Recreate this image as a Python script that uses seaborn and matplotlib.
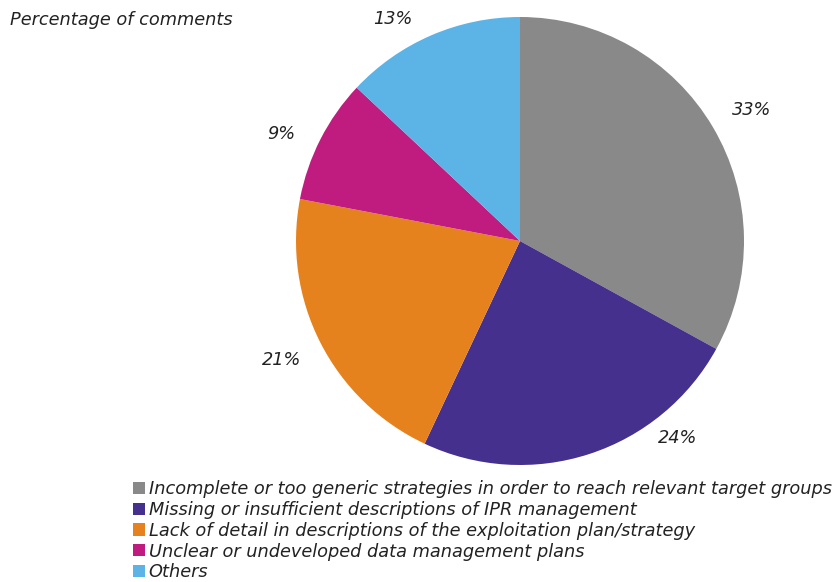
import matplotlib
matplotlib.use("Agg")
import matplotlib.pyplot as plt
import seaborn as sns
from matplotlib.patches import Patch

sns.set_theme(style="white")
plt.rcParams["font.family"] = ["DejaVu Sans"]

categories = [
    "Incomplete or too generic strategies in order to reach relevant target groups",
    "Missing or insufficient descriptions of IPR management",
    "Lack of detail in descriptions of the exploitation plan/strategy",
    "Unclear or undeveloped data management plans",
    "Others",
]
shares = [33, 24, 21, 9, 13]
colors = ["#898989", "#46308e", "#e6821e", "#c01c80", "#5bb3e6"]

# label anchor points around the pie (unit-radius data coords)
label_xy = [(1.036, 0.585), (0.705, -0.879), (-1.063, -0.531), (-1.067, 0.478), (-0.567, 0.991)]

W, H = 840, 582
fig = plt.figure(figsize=(W / 100, H / 100), dpi=100)
cx, cy, r = 520, 241, 224
ax = fig.add_axes([(cx - r) / W, (H - cy - r) / H, 2 * r / W, 2 * r / H])

ax.pie(shares, colors=colors, startangle=90, counterclock=False,
       radius=1, wedgeprops=dict(linewidth=0))
ax.set_xlim(-1, 1)
ax.set_ylim(-1, 1)
ax.set_aspect("equal")
ax.axis("off")

FS = 12.8
for v, (x, y) in zip(shares, label_xy):
    ax.text(x, y, f"{v}%", ha="center", va="center", fontsize=FS,
            style="italic", color="#222222", clip_on=False)

fig.text(10 / W, 1 - 20 / H, "Percentage of comments", ha="left", va="center",
         fontsize=FS, style="italic", color="#222222")

handles = [Patch(facecolor=c, edgecolor="none") for c in colors]
leg = fig.legend(handles, categories, loc="upper left",
                 bbox_to_anchor=(133 / W, 1 - 480 / H), frameon=False,
                 handlelength=0.68, handleheight=0.68, handletextpad=0.2,
                 labelspacing=0.16, borderpad=0, borderaxespad=0,
                 prop=dict(size=FS, style="italic"))
for t in leg.get_texts():
    t.set_color("#222222")

fig.savefig("out.png", dpi=100)
